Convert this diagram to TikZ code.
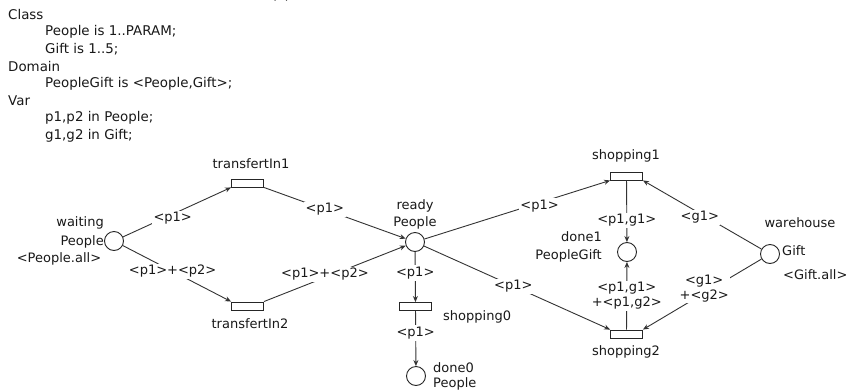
\documentclass[tikz,border=0pt]{standalone}
\usepackage{fontspec}
\setmainfont{DejaVu Sans}
\usetikzlibrary{arrows.meta}
\tikzset{
  txt/.style={font=\fontsize{13}{15}\selectfont, inner sep=0pt, text=black!90},
  decl/.style={font=\fontsize{13.4}{15}\selectfont, inner sep=0pt, text=black!90, anchor=west},
  place/.style={circle, draw=black!85, line width=0.9pt, minimum size=19pt, inner sep=0pt, fill=white},
  trans/.style={rectangle, draw=black!85, line width=0.9pt, minimum width=32pt, minimum height=8pt, inner sep=0pt, fill=white},
  arc/.style={draw=black!80, line width=0.9pt, -{Stealth[length=6pt,width=5pt]}},
  lab/.style={txt, fill=white, inner sep=1.5pt},
}
\begin{document}
\begin{tikzpicture}[x=1pt,y=-1pt]
\useasboundingbox[fill=white] (0,0) rectangle (848,391);
% caption fragment (cut off at the top edge, as in the reference)
\node[txt, anchor=base] (cap) at (281,-1) {(a)};
% declarations
\node[decl] (d1) at (8,15) {Class};
\node[decl] (d2) at (45,32.2) {People is 1..PARAM;};
\node[decl] (d3) at (45,49.4) {Gift is 1..5;};
\node[decl] (d4) at (8,66.6) {Domain};
\node[decl] (d5) at (45,83.8) {PeopleGift is <People,Gift>;};
\node[decl] (d6) at (8,101) {Var};
\node[decl] (d7) at (45,118.2) {p1,p2 in People;};
\node[decl] (d8) at (45,135.4) {g1,g2 in Gift;};
% places and transitions
\node[place] (waiting) at (114,241) {};
\node[trans] (t1) at (247.5,183) {};
\node[trans] (t2) at (247.5,306) {};
\node[place] (ready) at (415,242) {};
\node[trans] (s0) at (415.5,306.5) {};
\node[place] (done0) at (416,376) {};
\node[trans] (s1) at (626.5,176) {};
\node[place] (done1) at (627,252) {};
\node[trans] (s2) at (626.5,334) {};
\node[place] (wh) at (770,254) {};
% node labels
\node[txt, anchor=east] (lw1) at (104,223) {waiting};
\node[txt, anchor=east] (lw2) at (104,242) {People};
\node[txt] (lw3) at (59,259) {<People.all>};
\node[txt] (lt1) at (251,164) {transfertIn1};
\node[txt] (lt2) at (250,324) {transfertIn2};
\node[txt] (lr1) at (415,206) {ready};
\node[txt] (lr2) at (415,223) {People};
\node[txt, anchor=west] (ls0) at (443,317) {shopping0};
\node[txt, anchor=west] (ld01) at (433,368) {done0};
\node[txt, anchor=west] (ld02) at (433,384) {People};
\node[txt] (ls1) at (626,156) {shopping1};
\node[txt] (ls2) at (626,352) {shopping2};
\node[txt, anchor=east] (ld11) at (602,237) {done1};
\node[txt, anchor=east] (ld12) at (602,256) {PeopleGift};
\node[txt] (lwh1) at (800,223) {warehouse};
\node[txt, anchor=west] (lwh2) at (782,251) {Gift};
\node[txt, anchor=west] (lwh3) at (783,275) {<Gift.all>};
% arcs
\draw[arc] (waiting) -- node[lab, pos=0.46, yshift=-4pt] {<p1>} (t1.south west);
\draw[arc] (waiting) -- node[lab, pos=0.46] {<p1>+<p2>} (t2.north west);
\draw[arc] (t1.south east) -- node[lab, pos=0.43] {<p1>} (ready);
\draw[arc] (t2.north east) -- node[lab, pos=0.43, yshift=3pt] {<p1>+<p2>} (ready);
\draw[arc] (ready) -- node[lab, pos=0.42] {<p1>} (s0);
\draw[arc] (s0) -- node[lab, pos=0.4] {<p1>} (done0);
\draw[arc] (ready) -- node[lab, pos=0.62, yshift=-3pt] {<p1>} (s1.south west);
\draw[arc] (ready) -- node[lab, pos=0.48] {<p1>} (s2.north west);
\draw[arc] (s1) -- node[lab, pos=0.65] {<p1,g1>} (done1);
\draw[arc] (s2) -- node[lab, pos=0.5, align=center] {<p1,g1>\\+<p1,g2>} (done1);
\draw[arc] (wh) -- node[lab, pos=0.52, yshift=-4pt] {<g1>} (s1.south east);
\draw[arc] (wh) -- node[lab, pos=0.5, align=center, xshift=2pt, yshift=6pt] {<g1>\\+<g2>} (s2.north east);
\end{tikzpicture}
\end{document}
